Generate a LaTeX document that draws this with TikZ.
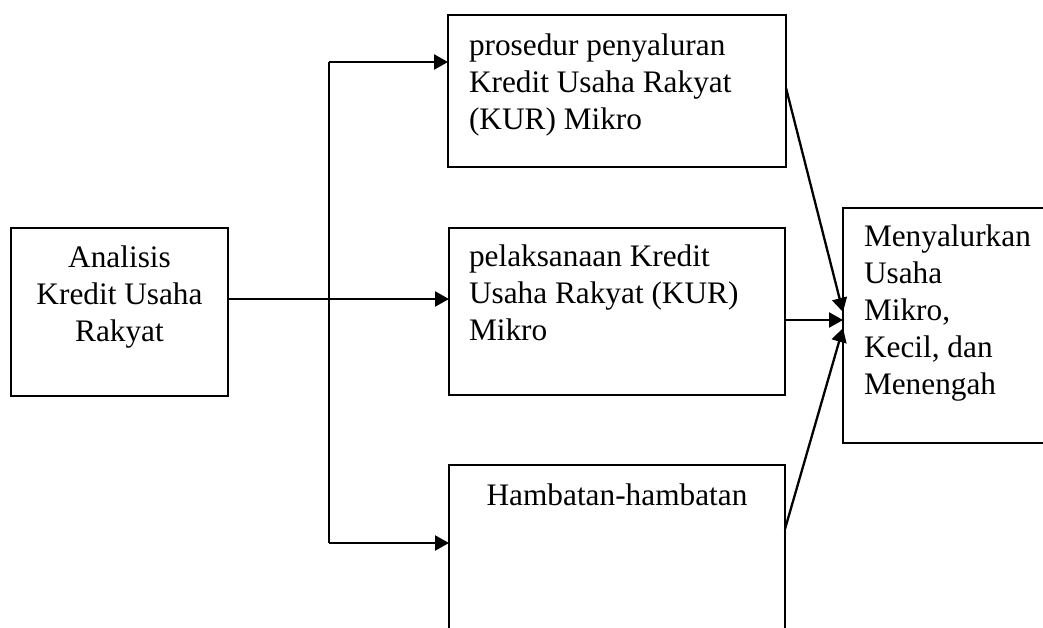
\documentclass[tikz,border=0pt]{standalone}
\usepackage{fontspec}
\setmainfont{Liberation Serif}
\usetikzlibrary{arrows.meta}
\tikzset{
  boxnode/.style={draw, line width=2.3pt, inner sep=0pt, outer sep=0pt, rectangle},
  txt/.style={inner sep=0pt, outer sep=0pt, font=\fontsize{31.3}{37}\selectfont},
  conn/.style={line width=2.3pt},
  arr/.style={line width=2.3pt, -{Triangle[length=14pt,width=15pt]}}
}
\begin{document}
\begin{tikzpicture}[x=1pt,y=-1pt]
\useasboundingbox (0,0) rectangle (1043,627);
\clip (0,0) rectangle (1043,627);
\fill[white] (0,0) rectangle (1043,627);
% boxes
\node[boxnode, minimum width=217pt, minimum height=168pt] (A) at (119.5,312) {};
\node[boxnode, minimum width=338pt, minimum height=152pt] (B1) at (617,91) {};
\node[boxnode, minimum width=336pt, minimum height=167pt] (B2) at (617,311.5) {};
\node[boxnode, minimum width=336pt, minimum height=190pt] (B3) at (617,560) {};
\node[boxnode, minimum width=220pt, minimum height=235pt] (B4) at (953,325.5) {};
% texts (base anchor = baseline of last line)
\node[txt, anchor=base, align=center] (tA) at (119.5,341) {Analisis\\Kredit Usaha\\Rakyat};
\node[txt, anchor=base west, align=left] (t1) at (469,129) {prosedur penyaluran\\Kredit Usaha Rakyat\\(KUR) Mikro};
\node[txt, anchor=base west, align=left] (t2) at (469,340) {pelaksanaan Kredit\\Usaha Rakyat (KUR)\\Mikro};
\node[txt, anchor=base] (t3) at (617,505) {Hambatan-hambatan};
\node[txt, anchor=base west, align=left] (t4) at (864,394) {Menyalurkan\\Usaha\\Mikro,\\Kecil, dan\\Menengah};
% junction coordinates
\coordinate (jm) at (329,299);
\coordinate (jt) at (329,62);
\coordinate (jb) at (329,543);
\coordinate (p1) at (843,312);
\coordinate (p2) at (843,320);
\coordinate (p3) at (843,328);
\coordinate (s1) at (786,88);
\coordinate (s3) at (785,529);
% connectors
\draw[arr] (A.east |- jm) -- (B2.west |- jm);
\draw[conn] (jt) -- (jb);
\draw[arr] (jt) -- (B1.west |- jt);
\draw[arr] (jb) -- (B3.west |- jb);
\draw[arr] (s1) -- (p1);
\draw[arr] (B2.east |- p2) -- (B4.west |- p2);
\draw[arr] (s3) -- (p3);
\end{tikzpicture}
\end{document}
